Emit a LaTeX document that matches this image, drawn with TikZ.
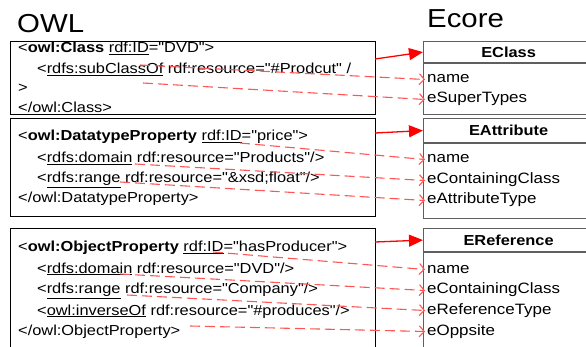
\documentclass[tikz,border=0pt]{standalone}
\usepackage{fontspec}
\setmainfont{Liberation Sans}[Ligatures=TeXOff, FakeStretch=1.13]
\usetikzlibrary{arrows.meta, positioning}
\definecolor{mapred}{RGB}{255,0,0}
\definecolor{dashred}{RGB}{255,85,85}
\definecolor{ecoregray}{RGB}{95,95,95}
\tikzstyle{title} = [anchor=base west, inner sep=0pt, font=\fontsize{26}{30}\selectfont]
\tikzstyle{owlbox} = [rectangle, draw=black, line width=1.3pt, anchor=north west, inner sep=0pt, minimum width=365pt]
\tikzstyle{code} = [anchor=base west, inner sep=0pt, font=\fontsize{14.5}{17}\selectfont]
\tikzstyle{ehead} = [rectangle, draw=ecoregray, line width=1.2pt, anchor=north west, inner sep=0pt, minimum width=170pt, font=\fontsize{14.5}{17}\selectfont\bfseries]
\tikzstyle{ebody} = [rectangle, draw=ecoregray, line width=1.2pt, inner sep=0pt, minimum width=170pt]
\tikzstyle{attr} = [anchor=base west, inner xsep=2pt, inner ysep=0pt, text height=10pt, text depth=3pt, font=\fontsize{15}{17}\selectfont]
\tikzstyle{arrow} = [draw=mapred, line width=1.3pt, -{Stealth[length=14pt,width=12pt,inset=0pt]}]
\tikzstyle{maparrow} = [draw=dashred, line width=1.1pt, dash pattern=on 10pt off 5pt, -{Straight Barb[length=5pt,width=11pt]}]

\begin{document}
\begin{tikzpicture}[x=1pt, y=-1pt, node distance=0pt]
\clip (0,0) rectangle (586,347);

\node (owltitle) [title] at (17,33) {OWL};
\node (ecoretitle) [title] at (427,28) {Ecore};

% OWL side
\node (owl1) [owlbox, minimum height=73pt] at (10,41) {};
\node (c11) [code] at (18,53) {<\textbf{owl:Class} \underline{rdf:ID}="DVD">};
\node (c12) [code] at (37,74) {<\underline{rdfs:subClassOf} rdf:resource="\#Prodcut" /};
\node (c13) [code] at (18,93) {>};
\node (c14) [code] at (18,113) {</owl:Class>};

\node (owl2) [owlbox, minimum height=98pt] at (10,118) {};
\node (c21) [code] at (18,141) {<\textbf{owl:DatatypeProperty} \underline{rdf:ID}="price">};
\node (c22) [code] at (37,163) {<\underline{rdfs:domain} rdf:resource="Products"/>};
\node (c23) [code] at (37,183) {<\underline{rdfs:range} rdf:resource="\&xsd;float"/>};
\node (c24) [code] at (18,203) {</owl:DatatypeProperty>};

\node (owl3) [owlbox, minimum height=125pt] at (10,228) {};
\node (c31) [code] at (18,252) {<\textbf{owl:ObjectProperty} \underline{rdf:ID}="hasProducer">};
\node (c32) [code] at (37,273) {<\underline{rdfs:domain} rdf:resource="DVD"/>};
\node (c33) [code] at (37,294) {<\underline{rdfs:range} rdf:resource="Company"/>};
\node (c34) [code] at (37,315) {<\underline{owl:inverseOf} rdf:resource="\#produces"/>};
\node (c35) [code] at (18,335) {</owl:ObjectProperty>};

% Ecore side
\node (eclass) [ehead, minimum height=21pt] at (423,41) {EClass};
\node (eclassbox) [ebody, minimum height=51pt, below=of eclass] {};
\node (name1) [attr] at (425,83) {name};
\node (esuper) [attr] at (425,103) {eSuperTypes};

\node (eattr) [ehead, minimum height=24pt] at (423,118) {EAttribute};
\node (eattrbox) [ebody, minimum height=75pt, below=of eattr] {};
\node (name2) [attr] at (425,163) {name};
\node (econt2) [attr] at (425,184) {eContainingClass};
\node (eatype) [attr] at (425,204) {eAttributeType};

\node (eref) [ehead, minimum height=23pt] at (423,228) {EReference};
\node (erefbox) [ebody, minimum height=110pt, below=of eref] {};
\node (name3) [attr] at (425,273) {name};
\node (econt3) [attr] at (425,294) {eContainingClass};
\node (ereftype) [attr] at (425,314) {eReferenceType};
\node (eopp) [attr] at (425,335) {eOppsite};

% mappings
\coordinate (o1) at (375,59);
\coordinate (o2) at (375,133);
\coordinate (o3) at (375,242);
\draw [arrow] (o1) -- (eclass.west);
\draw [arrow] (o2) -- (eattr.west);
\draw [arrow] (o3) -- (eref.west);

\coordinate (s11) at (140,65);
\coordinate (s12) at (143,83);
\coordinate (s21) at (240,143);
\coordinate (s22) at (135,164);
\coordinate (s23) at (120,182);
\coordinate (s31) at (213,252);
\coordinate (s32) at (120,274);
\coordinate (s33) at (127,295);
\coordinate (s34) at (190,326);
\draw [maparrow] (s11) -- (name1.west);
\draw [maparrow] (s12) -- (esuper.west);
\draw [maparrow] (s21) -- (name2.west);
\draw [maparrow] (s22) -- (econt2.west);
\draw [maparrow] (s23) -- (eatype.west);
\draw [maparrow] (s31) -- (name3.west);
\draw [maparrow] (s32) -- (econt3.west);
\draw [maparrow] (s33) -- (ereftype.west);
\draw [maparrow] (s34) -- (eopp.west);

\end{tikzpicture}
\end{document}
